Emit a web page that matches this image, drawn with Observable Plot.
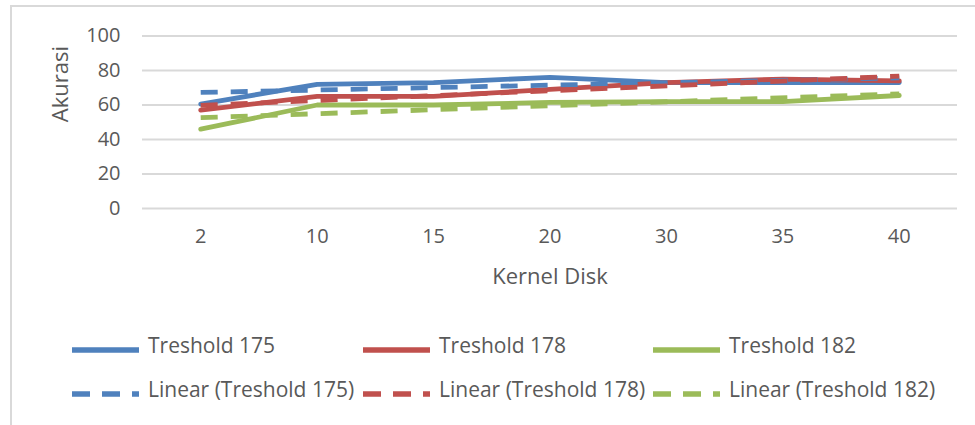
<!DOCTYPE html>
<html>
<head>
<meta charset="utf-8">
<script src="https://cdn.jsdelivr.net/npm/d3@7"></script>
<script src="https://cdn.jsdelivr.net/npm/@observablehq/plot@0.6"></script>
<style>
  html, body { margin: 0; padding: 0; background: #fff; }
  #page { position: relative; width: 975px; height: 425px; overflow: hidden; font-family: "Open Sans", sans-serif; color: #595959; }
  #frame { position: absolute; left: 9.5px; top: 5px; width: 1100px; height: 600px; border-left: 2px solid #D9D9D9; border-top: 2px solid #D9D9D9; }
  #chart { position: absolute; left: 0; top: 0; }
  .lg-swatch { position: absolute; }
  .lg-text { position: absolute; font-size: 21px; line-height: 1; white-space: nowrap; }
</style>
</head>
<body>
<div id="page">
  <div id="frame"></div>
  <div id="chart"></div>
  <div id="legend"></div>
</div>
<script>
// Kernel disk sizes (categories on the x axis)
const kernelDisk = ["2", "10", "15", "20", "30", "35", "40"];

// Accuracy per threshold
const treshold175 = [60.5, 72, 73, 76, 73, 73, 73];
const treshold178 = [57, 65, 65, 69, 73, 75, 74];
const treshold182 = [46, 60, 60, 61.5, 62, 62, 65.5];

const seriesNames = ["Treshold 175", "Treshold 178", "Treshold 182"];
const seriesColors = ["#4F81BD", "#C0504D", "#9BBB59"];
const yTicks = [0, 20, 40, 60, 80, 100];

// Long table: category position index (1..7), value, series
const seriesValues = [treshold175, treshold178, treshold182];
const table = seriesNames.flatMap((name, s) =>
  seriesValues[s].map((v, i) => ({i: i + 1, v, series: name}))
);
const idx = kernelDisk.map((_, i) => i + 1);

const chart = Plot.plot({
  width: 975,
  height: 300,
  marginLeft: 142,
  marginRight: 18,
  marginTop: 35.5,
  marginBottom: 92,
  style: {fontFamily: "Open Sans, sans-serif", fontSize: "20px", color: "#595959", background: "transparent", overflow: "visible"},
  x: {type: "linear", domain: [0.5, 7.5]},
  y: {domain: [0, 100]},
  color: {domain: seriesNames, range: seriesColors},
  marks: [
    Plot.gridY(yTicks, {stroke: "#D9D9D9", strokeOpacity: 1, strokeWidth: 1.8}),
    Plot.axisY(yTicks, {tickSize: 0, tickPadding: 22, label: null}),
    Plot.axisX(idx, {tickSize: 0, tickPadding: 20, label: null, tickFormat: (d) => kernelDisk[d - 1]}),
    Plot.line(table, {x: "i", y: "v", z: "series", stroke: "series", strokeWidth: 4.8, strokeLinejoin: "round"}),
    Plot.linearRegressionY(table, {x: "i", y: "v", stroke: "series", ci: 0, strokeWidth: 4.8, strokeDasharray: "17,13", strokeLinecap: "butt"}),
    Plot.text(["Akurasi"], {text: (d) => d, frameAnchor: "left", dx: -82, rotate: -90, fontSize: 22}),
    Plot.text(["Kernel Disk"], {text: (d) => d, frameAnchor: "bottom", dy: 75, fontSize: 22})
  ]
});
document.getElementById("chart").appendChild(chart);

// Legend: two rows, solid series on top, linear trends below
const legend = document.getElementById("legend");
const colX = [72, 363, 653];
const rows = [
  {y: 349.5, dash: null, label: (n) => n},
  {y: 393.5, dash: "18,12", label: (n) => `Linear (${n})`}
];
rows.forEach((row) => {
  seriesNames.forEach((name, s) => {
    const x0 = colX[s];
    const sw = document.createElementNS("http://www.w3.org/2000/svg", "svg");
    sw.setAttribute("class", "lg-swatch");
    sw.setAttribute("width", 67);
    sw.setAttribute("height", 10);
    sw.style.left = x0 + "px";
    sw.style.top = (row.y - 5) + "px";
    const ln = document.createElementNS("http://www.w3.org/2000/svg", "line");
    ln.setAttribute("x1", 0); ln.setAttribute("x2", 67);
    ln.setAttribute("y1", 5); ln.setAttribute("y2", 5);
    ln.setAttribute("stroke", seriesColors[s]);
    ln.setAttribute("stroke-width", 5.5);
    if (row.dash) ln.setAttribute("stroke-dasharray", row.dash);
    sw.appendChild(ln);
    legend.appendChild(sw);
    const t = document.createElement("div");
    t.className = "lg-text";
    t.textContent = row.label(name);
    t.style.left = (x0 + 76) + "px";
    t.style.top = (row.y - 15) + "px";
    legend.appendChild(t);
  });
});
</script>
</body>
</html>
